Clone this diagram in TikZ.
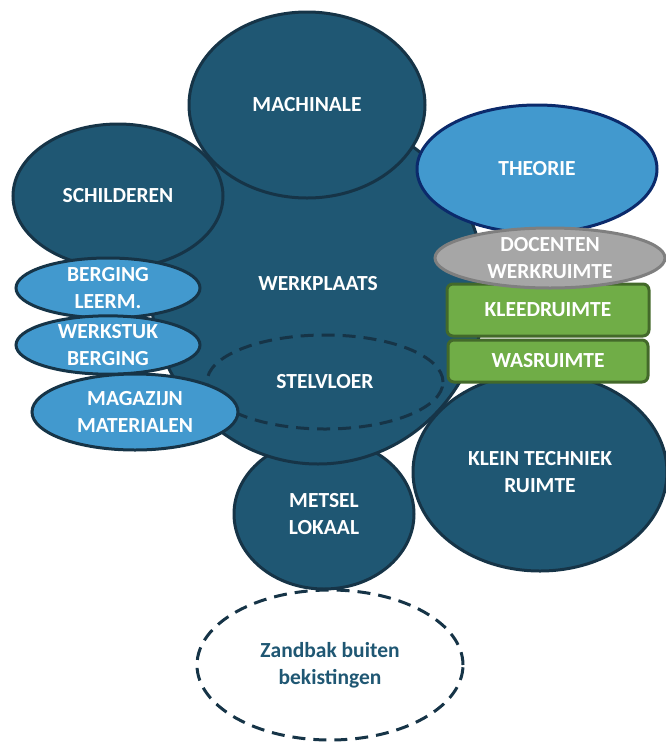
\documentclass[tikz,border=0pt]{standalone}
\usepackage{fontspec}
\setmainfont{Carlito}
\usetikzlibrary{shapes.geometric}
\definecolor{dblue}{HTML}{1F5773}
\definecolor{dline}{HTML}{163447}
\definecolor{lblue}{HTML}{4299CE}
\definecolor{navy}{HTML}{0B2A6B}
\definecolor{grn}{HTML}{70AD47}
\definecolor{grnline}{HTML}{43692A}
\definecolor{gry}{HTML}{A6A6A6}
\definecolor{gryline}{HTML}{7F7F7F}
\tikzset{
  room/.style={ellipse, draw=dline, line width=3pt, fill=dblue, text=white, align=center, inner sep=0pt,
    font=\fontsize{21.5}{27}\selectfont\bfseries},
  lroom/.style={room, fill=lblue},
  box/.style={rectangle, rounded corners=6pt, draw=grnline, line width=3pt, fill=grn, text=white, align=center,
    font=\fontsize{21.5}{27}\selectfont\bfseries},
  dashroom/.style={ellipse, draw=dline, line width=3pt, dash pattern=on 13pt off 8pt, align=center, inner sep=0pt,
    font=\fontsize{21.5}{27}\selectfont\bfseries},
  lbl/.style={text=white, align=center, font=\fontsize{21.5}{27}\selectfont\bfseries}
}
\begin{document}
\begin{tikzpicture}[x=1pt,y=-1pt]
\useasboundingbox (0,0) rectangle (666,748);
% bottom layers
\node[room, minimum width=180pt, minimum height=150pt] (metsel) at (324,514) {METSEL\\LOKAAL};
\node[room, minimum width=334pt, minimum height=348pt] (werkplaats) at (318,290) {};
\node[lbl] (werkplaatslbl) at (318,284) {WERKPLAATS};
\node[dashroom, minimum width=236pt, minimum height=94pt] (stelvloer) at (325,382) {};
\node[lbl] (stelvloerlbl) at (325,382) {STELVLOER};
\node[room, minimum width=236pt, minimum height=186pt] (machinale) at (307,105) {MACHINALE};
\node[room, minimum width=210pt, minimum height=144pt] (schilderen) at (118,196) {SCHILDEREN};
\node[room, draw=navy, fill=lblue, minimum width=240pt, minimum height=128pt] (theorie) at (537,169) {THEORIE};
\node[room, minimum width=254pt, minimum height=198pt] (klein) at (540,472) {KLEIN TECHNIEK\\RUIMTE};
\node[box, minimum width=200pt, minimum height=42pt] (was) at (548,361) {WASRUIMTE};
\node[box, minimum width=202pt, minimum height=52pt] (kleed) at (548,310) {KLEEDRUIMTE};
\node[room, draw=gryline, fill=gry, minimum width=230pt, minimum height=60pt] (docenten) at (550,258) {DOCENTEN\\WERKRUIMTE};
\node[lroom, minimum width=184pt, minimum height=60pt] (berging) at (108,288) {BERGING\\LEERM.};
\node[lroom, minimum width=184pt, minimum height=56pt] (werkstuk) at (108,345) {WERKSTUK\\BERGING};
\node[lroom, minimum width=206pt, minimum height=76pt] (magazijn) at (135,412) {MAGAZIJN\\MATERIALEN};
\node[dashroom, text=dblue, minimum width=266pt, minimum height=150pt] (zandbak) at (330,665) {Zandbak buiten\\bekistingen};
\end{tikzpicture}
\end{document}
